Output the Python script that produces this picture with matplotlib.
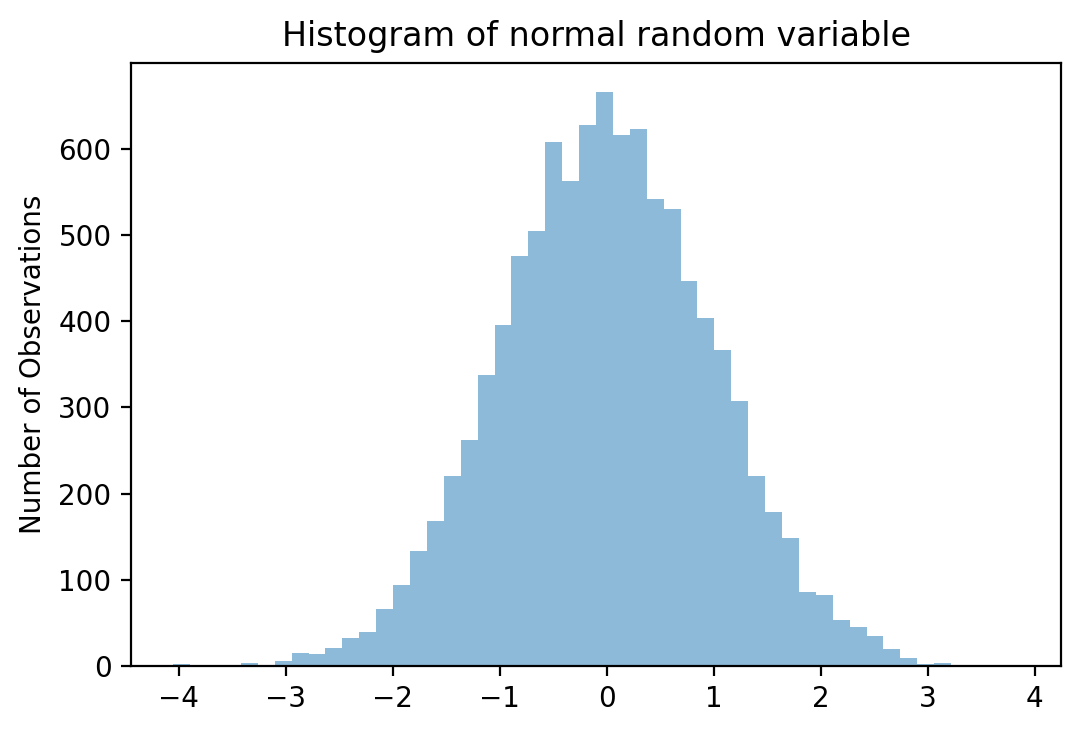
import matplotlib
matplotlib.use("Agg")
import matplotlib.pyplot as plt
import numpy as np

# bin range (50 equal bins)
x_min, x_max = -4.051, 3.851
n_bins = 50
counts = [2, 0, 0, 0, 3, 0, 6, 15, 14, 21,
          32, 39, 66, 94, 133, 168, 220, 262, 337, 395,
          476, 505, 608, 563, 627, 666, 616, 623, 542, 530,
          447, 403, 366, 307, 220, 179, 149, 86, 82, 53,
          45, 35, 20, 9, 2, 3, 1, 1, 0, 0]

edges = np.linspace(x_min, x_max, n_bins + 1)
centers = (edges[:-1] + edges[1:]) / 2

fig = plt.figure(figsize=(5.405, 3.67), dpi=200)
ax = fig.add_subplot(111)
fig.subplots_adjust(left=0.1212, right=0.9815, top=0.9142, bottom=0.0926)

ax.hist(centers, bins=edges, weights=counts, alpha=0.5)
ax.set_title('Histogram of normal random variable')
ax.set_ylabel('Number of Observations')
ax.set_xticks([-4, -3, -2, -1, 0, 1, 2, 3, 4])

plt.savefig('out.png', dpi=200)
